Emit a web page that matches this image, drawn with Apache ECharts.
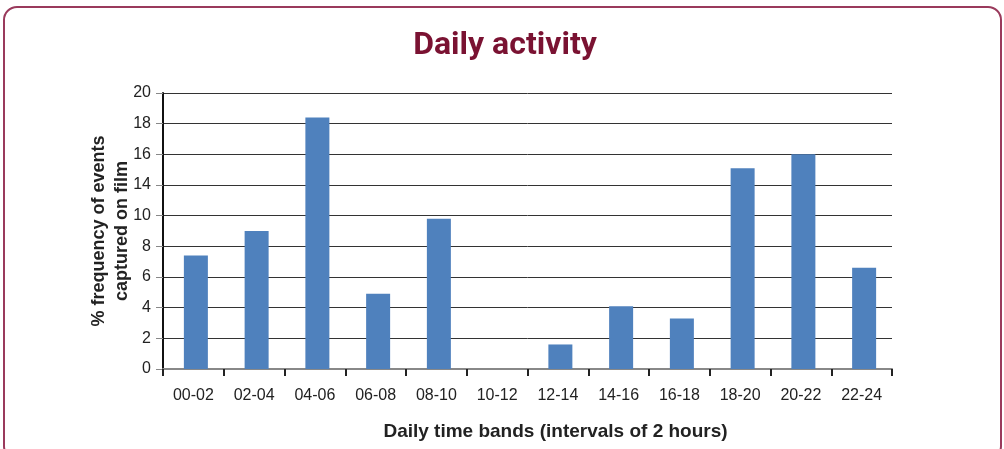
<!DOCTYPE html>
<html>
<head>
<meta charset="utf-8">
<style>
  html, body { margin: 0; padding: 0; background: #ffffff; }
  #chart { width: 1004px; height: 449px; }
</style>
<script src="https://cdn.jsdelivr.net/npm/echarts@6/dist/echarts.min.js"></script>
</head>
<body>
<div id="chart"></div>
<script>
// ---- data ----
const categories = ['00-02', '02-04', '04-06', '06-08', '08-10', '10-12',
                    '12-14', '14-16', '16-18', '18-20', '20-22', '22-24'];
// % frequency of events, as read against the printed tick labels
const frequencyValues = [7.4, 9.0, 18.4, 4.9, 9.8, 0, 1.6, 4.1, 3.3, 15.1, 16.0, 6.6];
// printed y tick labels (the original chart skips "12"), one per gridline
const yTickLabels = ['0', '2', '4', '6', '8', '10', '14', '16', '18', '20'];

// map a value onto the gridline index scale by interpolating between printed tick labels
function toAxisPosition(v) {
  const t = yTickLabels.map(Number);
  for (let i = 0; i < t.length - 1; i++) {
    if (v >= t[i] && v <= t[i + 1]) return i + (v - t[i]) / (t[i + 1] - t[i]);
  }
  return t.length - 1;
}

const chart = echarts.init(document.getElementById('chart'), null, { renderer: 'canvas' });
const sans = '"Liberation Sans", Arial, sans-serif';

chart.setOption({
  backgroundColor: '#ffffff',
  animation: false,
  graphic: [{
    type: 'rect',
    shape: { x: 4, y: 7, width: 997, height: 452, r: 13 },
    style: { fill: 'none', stroke: '#9a3a5c', lineWidth: 2 }
  }],
  title: {
    text: 'Daily activity',
    left: 500,
    top: 25,
    textAlign: 'center',
    textStyle: { fontFamily: 'Roboto, "Noto Sans", sans-serif', fontWeight: 'bold', fontSize: 32, color: '#7a1232' }
  },
  grid: { left: 163, right: 112, top: 93, bottom: 80, containLabel: false },
  xAxis: {
    type: 'category',
    data: categories,
    name: 'Daily time bands (intervals of 2 hours)',
    nameLocation: 'middle',
    nameGap: 53,
    nameTextStyle: { fontFamily: sans, fontWeight: 'bold', fontSize: 19, color: '#222', padding: [0, 0, 0, 56] },
    axisLine: { lineStyle: { color: '#888888', width: 2 } },
    axisTick: { show: true, alignWithLabel: false, length: 7, lineStyle: { color: '#222', width: 2 } },
    axisLabel: { margin: 19, fontFamily: sans, fontSize: 16, color: '#222' },
    splitLine: { show: false }
  },
  yAxis: {
    type: 'value',
    min: 0,
    max: yTickLabels.length - 1,
    interval: 1,
    name: '% frequency of events\ncaptured on film',
    nameLocation: 'middle',
    nameRotate: 90,
    nameGap: 29,
    nameMoveOverlap: false,
    nameTextStyle: { fontFamily: sans, fontWeight: 'bold', fontSize: 18, color: '#222', lineHeight: 23 },
    axisLine: { show: true, lineStyle: { color: '#111', width: 2 } },
    axisTick: { show: true, length: 7, lineStyle: { color: '#888' } },
    axisLabel: { margin: 12, fontFamily: sans, fontSize: 16, color: '#222',
                 formatter: (v) => yTickLabels[Math.round(v)] },
    splitLine: { show: true, lineStyle: { color: '#333', width: 1 } }
  },
  series: [{
    // empty spacer column: nudges the bars slightly right of category centre, as in the original
    type: 'bar',
    data: categories.map(() => null),
    barWidth: 5,
    barGap: 0,
    silent: true,
    itemStyle: { color: 'transparent' }
  }, {
    type: 'bar',
    data: frequencyValues.map(toAxisPosition),
    barWidth: 24,
    barGap: 0,
    itemStyle: { color: '#4f81bd' }
  }]
});
</script>
</body>
</html>
